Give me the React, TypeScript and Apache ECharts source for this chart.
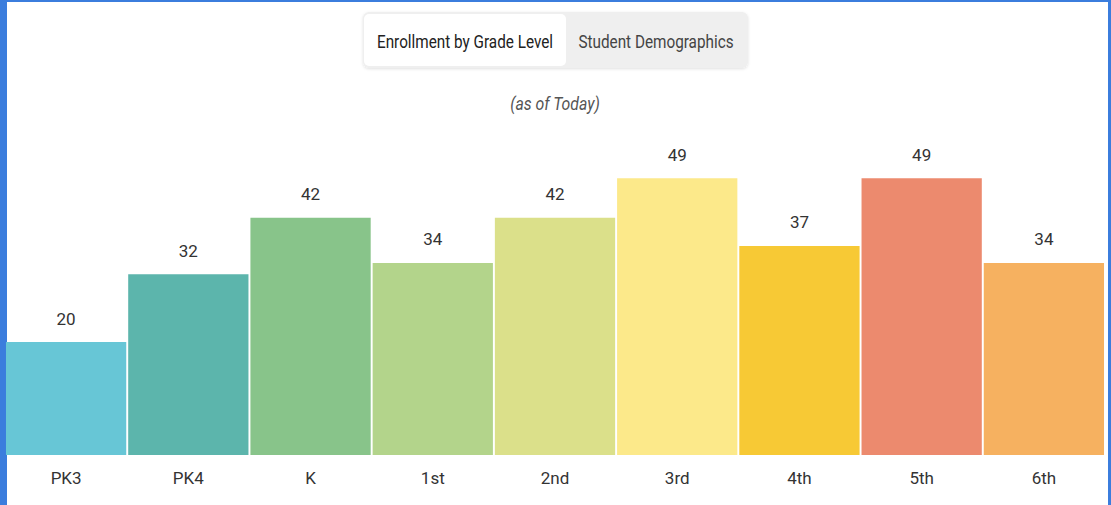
import React, { useEffect, useRef } from "react";
import * as echarts from "echarts";

const categories = ["PK3", "PK4", "K", "1st", "2nd", "3rd", "4th", "5th", "6th"];
const enrollment = [20, 32, 42, 34, 42, 49, 37, 49, 34];
const barColors = ["#67c6d6", "#5cb5ac", "#88c48a", "#b3d48b", "#dbe08a", "#fce98a", "#f7c935", "#ec8a6e", "#f6b160"];
const tabLabels = ["Enrollment by Grade Level", "Student Demographics"];
const subtitle = "(as of Today)";

const FONT = "Roboto, 'Noto Sans', sans-serif";

export default function App() {
  const ref = useRef<HTMLDivElement>(null);
  useEffect(() => {
    if (!ref.current) return;
    const chart = echarts.init(ref.current, null, { renderer: "svg" });
    chart.setOption({
      animation: false,
      backgroundColor: "#ffffff",
      grid: { left: 5, right: 6, top: 116, bottom: 50 },
      xAxis: {
        type: "category",
        data: categories,
        axisLine: { show: false },
        axisTick: { show: false },
        axisLabel: { color: "#333", fontSize: 17, fontFamily: FONT, margin: 14 },
      },
      yAxis: { type: "value", min: 0, max: 60, show: false, splitLine: { show: false } },
      series: [
        {
          type: "bar",
          barCategoryGap: "1.6%",
          data: enrollment.map((v, i) => ({ value: v, itemStyle: { color: barColors[i] } })),
          label: {
            show: true,
            position: "top",
            distance: 15,
            color: "#333",
            fontSize: 17,
            fontFamily: FONT,
          },
        },
      ],
      graphic: [
        { type: "rect", shape: { x: 0, y: 0, width: 7, height: 505 }, style: { fill: "#3b7ddd" } },
        { type: "rect", shape: { x: 0, y: 0, width: 1111, height: 2 }, style: { fill: "#3b7ddd" } },
        { type: "rect", shape: { x: 1108, y: 0, width: 3, height: 505 }, style: { fill: "#3b7ddd" } },
        {
          type: "rect",
          shape: { x: 363, y: 12, width: 385, height: 56, r: 6 },
          style: { fill: "#efefef", shadowBlur: 3, shadowColor: "rgba(0,0,0,0.12)", shadowOffsetY: 1 },
        },
        {
          type: "rect",
          shape: { x: 364, y: 14, width: 202, height: 52, r: 5 },
          style: { fill: "#ffffff" },
        },
        {
          type: "text",
          x: 465,
          y: 42,
          scaleX: 0.85,
          style: { text: tabLabels[0], fill: "#222", fontSize: 18, fontFamily: FONT, align: "center", verticalAlign: "middle" },
        },
        {
          type: "text",
          x: 656,
          y: 42,
          scaleX: 0.85,
          style: { text: tabLabels[1], fill: "#444", fontSize: 18, fontFamily: FONT, align: "center", verticalAlign: "middle" },
        },
        {
          type: "text",
          x: 555,
          y: 104,
          scaleX: 0.88,
          style: { text: subtitle, fill: "#555", fontSize: 18, fontStyle: "italic", fontFamily: FONT, align: "center", verticalAlign: "middle" },
        },
      ],
    });
    return () => chart.dispose();
  }, []);
  return <div ref={ref} style={{ position: "fixed", left: 0, top: 0, width: 1111, height: 505 }} />;
}
